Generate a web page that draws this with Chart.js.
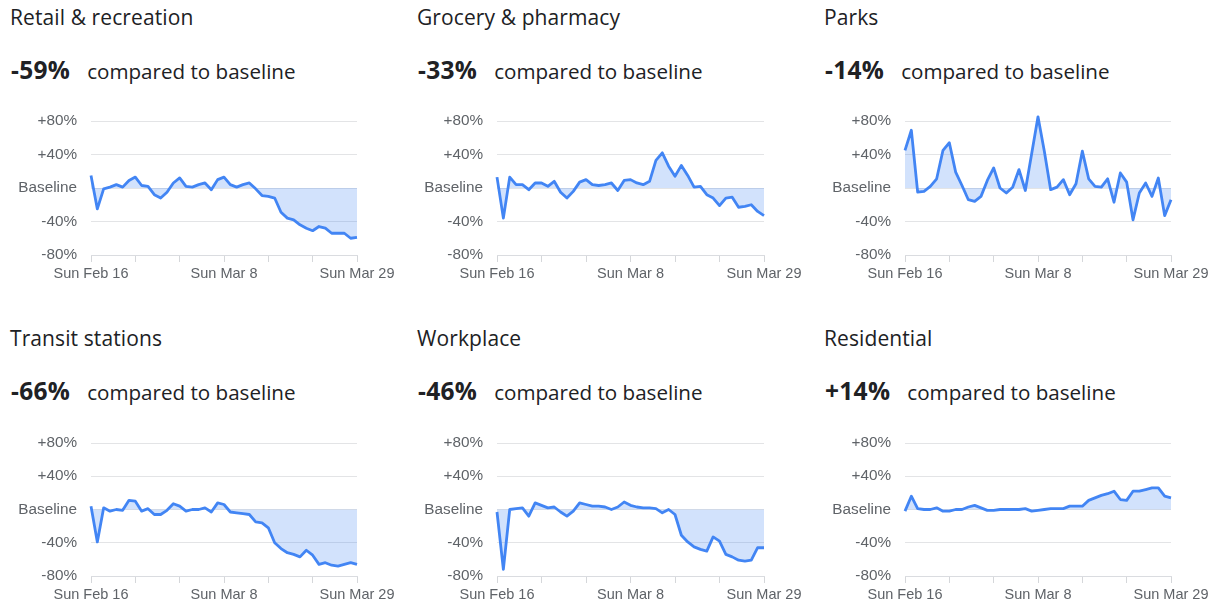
<!DOCTYPE html>
<html><head><meta charset="utf-8">
<script src="https://cdn.jsdelivr.net/npm/chart.js@4.4.1/dist/chart.umd.min.js"></script>
<style>
body{margin:0;background:#fff;width:1218px;height:607px;overflow:hidden;font-family:'Open Sans',sans-serif;color:#202124;position:relative}
.t{position:absolute;font-size:21px;line-height:20px;white-space:nowrap;letter-spacing:0.1px}
.p{position:absolute;white-space:nowrap;line-height:30px;height:30px}
.p b{font-size:24.5px;font-weight:700;margin-right:17px;letter-spacing:0.3px}
.p span{font-size:20.6px}
canvas{position:absolute}
</style></head><body>
<script>
const dates = ["Sun Feb 16","Mon Feb 17","Tue Feb 18","Wed Feb 19","Thu Feb 20","Fri Feb 21","Sat Feb 22",
"Sun Feb 23","Mon Feb 24","Tue Feb 25","Wed Feb 26","Thu Feb 27","Fri Feb 28","Sat Feb 29",
"Sun Mar 1","Mon Mar 2","Tue Mar 3","Wed Mar 4","Thu Mar 5","Fri Mar 6","Sat Mar 7",
"Sun Mar 8","Mon Mar 9","Tue Mar 10","Wed Mar 11","Thu Mar 12","Fri Mar 13","Sat Mar 14",
"Sun Mar 15","Mon Mar 16","Tue Mar 17","Wed Mar 18","Thu Mar 19","Fri Mar 20","Sat Mar 21",
"Sun Mar 22","Mon Mar 23","Tue Mar 24","Wed Mar 25","Thu Mar 26","Fri Mar 27","Sat Mar 28","Sun Mar 29"];

const titles = ["Retail & recreation","Grocery & pharmacy","Parks","Transit stations","Workplace","Residential"];
const headline = ["-59%","-33%","-14%","-66%","-46%","+14%"];

const retail = [15,-25,-1,1,4,1,9,13,3,2,-8,-12,-5,6,12,2,1,4,6,-2,10,13,4,1,4,6,-1,-9,-10,-12,-29,-36,-38,-44,-48,-51,-46,-48,-54,-54,-54,-60,-59];
const grocery = [13,-36,13,4,4,-2,6,6,2,8,-5,-12,-4,7,10,4,3,4,6,-3,9,10,6,4,8,33,42,26,14,27,15,1,2,-8,-12,-21,-12,-11,-23,-22,-20,-28,-33];
const parks = [45,69,-5,-4,2,11,45,54,19,3,-14,-16,-10,9,24,0,-6,1,22,-3,41,85,44,-2,1,10,-8,5,44,11,2,1,11,-17,18,7,-38,-6,6,-10,12,-33,-14];
const transit = [4,-39,2,-2,0,-1,11,10,-2,1,-6,-6,-1,7,4,-2,0,0,2,-3,8,6,-3,-4,-5,-6,-15,-16,-22,-40,-47,-52,-54,-57,-49,-55,-66,-64,-67,-68,-66,-64,-66];
const workplace = [-3,-72,0,1,2,-8,8,5,2,3,-3,-8,-2,8,6,4,4,3,0,3,9,5,3,2,2,1,-4,0,-6,-31,-39,-45,-48,-50,-33,-38,-54,-57,-61,-62,-61,-46,-46];
const residential = [-2,16,1,0,0,2,-2,-2,0,0,3,5,2,-1,-1,0,0,0,0,1,-2,-1,0,1,1,1,4,4,4,11,14,17,19,22,12,11,22,22,24,26,26,16,14];

const series = [retail, grocery, parks, transit, workplace, residential];

const plotLeft = [91, 497, 905];
const plotRight = [357, 764, 1171];
const plotTop = [121, 443];
const plotBottom = [255, 576];
const textLeft = [10, 417, 824];

const AXW = 91, PADT = 15, PADR = 45, XH = 40;
const xFont = {family:'Liberation Sans, Arial, sans-serif', size:14.5};
const yFont = {family:'Liberation Sans, Arial, sans-serif', size:15.3};
const tickColor = '#5f6368';

series.forEach((vals, i) => {
  const c = i % 3, r = Math.floor(i / 3);
  const t = document.createElement('div');
  t.className = 't';
  t.style.left = textLeft[c] + 'px';
  t.style.top = (7 + 321 * r) + 'px';
  t.textContent = titles[i];
  document.body.appendChild(t);

  const p = document.createElement('div');
  p.className = 'p';
  p.style.left = (textLeft[c] + 1) + 'px';
  p.style.top = (55 + 321 * r) + 'px';
  const b = document.createElement('b'); b.textContent = headline[i];
  const s = document.createElement('span'); s.textContent = 'compared to baseline';
  p.appendChild(b); p.appendChild(s);
  document.body.appendChild(p);

  const left = plotLeft[c] - AXW;
  const top = plotTop[r] - PADT;
  const w = plotRight[c] - left + PADR;
  const h = PADT + (plotBottom[r] - plotTop[r]) + XH;
  const cv = document.createElement('canvas');
  cv.width = w; cv.height = h;
  cv.style.left = left + 'px'; cv.style.top = top + 'px';
  cv.style.width = w + 'px'; cv.style.height = h + 'px';
  document.body.appendChild(cv);

  new Chart(cv, {
    type: 'line',
    data: {
      labels: dates,
      datasets: [{
        data: vals,
        borderColor: '#4285f4',
        borderWidth: 2.8,
        backgroundColor: 'rgba(66,133,244,0.24)',
        fill: 'origin',
        pointRadius: 0,
        tension: 0,
        clip: false,
        borderJoinStyle: 'round'
      }]
    },
    options: {
      responsive: false,
      animation: false,
      devicePixelRatio: 1,
      layout: {padding: {top: PADT, right: PADR, left: 0, bottom: 0}},
      plugins: {legend: {display: false}, tooltip: {enabled: false}},
      scales: {
        x: {
          grid: {drawOnChartArea: false, tickLength: 7,
                 color: (ctx) => (ctx.index % 7 === 0 ? '#d5d7da' : 'rgba(0,0,0,0)')},
          border: {display: true, color: '#dadce0'},
          ticks: {autoSkip: false, maxRotation: 0, minRotation: 0, padding: 3.5,
                  font: xFont, color: tickColor,
                  callback: (v, idx) => (idx % 21 === 0 ? dates[idx] : '')},
          afterFit: (sc) => { sc.height = XH; sc.paddingLeft = 0; sc.paddingRight = 0; }
        },
        y: {
          min: -80, max: 80,
          ticks: {stepSize: 40, padding: 14, font: yFont, color: tickColor,
                  callback: (v) => (v === 0 ? 'Baseline' : (v > 0 ? '+' + v + '%' : v + '%'))},
          grid: {drawTicks: false, color: '#e3e4e6'},
          border: {display: false},
          afterFit: (sc) => { sc.width = AXW; sc.paddingTop = 0; sc.paddingBottom = 0; }
        }
      }
    }
  });
});
</script>
</body></html>
